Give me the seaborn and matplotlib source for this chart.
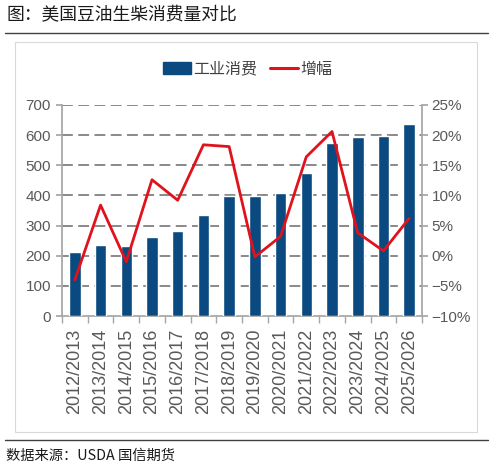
import numpy as np
import pandas as pd
import matplotlib
matplotlib.use("Agg")
import matplotlib.pyplot as plt
import seaborn as sns
from matplotlib import font_manager
from matplotlib.patches import Patch, Rectangle
from matplotlib.lines import Line2D
from matplotlib.ticker import FuncFormatter

seasons = ["2012/2013", "2013/2014", "2014/2015", "2015/2016", "2016/2017",
           "2017/2018", "2018/2019", "2019/2020", "2020/2021", "2021/2022",
           "2022/2023", "2023/2024", "2024/2025", "2025/2026"]
consumption = [213, 234, 232, 261, 283, 335, 398, 398, 407, 474, 573, 595, 598, 636]
growth_pct = [-4.0, 8.4, -1.0, 12.6, 9.2, 18.4, 18.1, -0.2, 3.2, 16.4, 20.6, 3.8, 0.8, 6.2]

bar_label = "工业消费"
line_label = "增幅"
title = "图：美国豆油生柴消费量对比"
source = "数据来源：USDA 国信期货"

sns.set_theme(style="white")
plt.rcParams['font.family'] = ['Noto Sans CJK SC', 'DejaVu Sans']

installed = {f.name for f in font_manager.fontManager.ttflist}
if "Liberation Sans Narrow" in installed:
    yfont, ysize = ['Liberation Sans Narrow', 'DejaVu Sans'], 12.5
else:
    yfont, ysize = ['Liberation Sans', 'DejaVu Sans'], 11

BLUE = "#0a4a80"
RED = "#e0121c"
GRAY = "#595959"
AXC = "#a6a6a6"

df = pd.DataFrame({"season": seasons, "consumption": consumption, "growth": growth_pct})

fig = plt.figure(figsize=(4.93, 4.69), dpi=100)
ax = fig.add_axes([62/493, 1-316/469, (422-62)/493, (316-105)/469])

sns.barplot(data=df, x="season", y="consumption", color=BLUE, width=0.45,
            saturation=1, ax=ax, zorder=3)
ax.set_ylim(0, 700)
ax.set_yticks(range(0, 701, 100))
ax.set_xlim(-0.5, len(seasons) - 0.5)
ax.set_xlabel("")
ax.set_ylabel("")
for y in range(100, 701, 100):
    ax.axhline(y, color="#808080", lw=1.3, ls=(0, (6, 3)), zorder=1)

ax2 = ax.twinx()
sns.lineplot(data=df, x="season", y="growth", color=RED, lw=2, ax=ax2, zorder=4)
ax2.set_ylim(-10, 25)
ax2.set_yticks(range(-10, 26, 5))
ax2.yaxis.set_major_formatter(FuncFormatter(lambda v, p: f"{int(v)}%".replace("-", "−")))
ax2.set_ylabel("")
ax2.set_xlabel("")

for a in (ax, ax2):
    for s in a.spines.values():
        s.set_visible(False)
ax.spines["left"].set_visible(True)
ax.spines["left"].set_color(AXC)
ax.spines["bottom"].set_visible(True)
ax.spines["bottom"].set_color(AXC)
ax2.spines["right"].set_visible(True)
ax2.spines["right"].set_color(AXC)

ax.tick_params(axis="y", left=True, length=4, direction="out", color=AXC,
               labelsize=ysize, labelcolor=GRAY, pad=4)
ax2.tick_params(axis="y", right=True, length=4, direction="out", color=AXC,
                labelsize=ysize, labelcolor=GRAY, pad=3)
for lab in ax.get_yticklabels() + ax2.get_yticklabels():
    lab.set_family(yfont)

ax.set_xticks(np.arange(len(seasons)))
ax.set_xticklabels(seasons, rotation=90, fontsize=13, color=GRAY,
                   family=['Liberation Sans', 'DejaVu Sans'])
ax.tick_params(axis="x", length=0, pad=9)
ax.set_xticks(np.arange(-0.5, len(seasons)), minor=True)
ax.tick_params(axis="x", which="minor", bottom=True, length=5, color=AXC, direction="out")

handles = [Patch(facecolor=BLUE, edgecolor=BLUE),
           Line2D([0], [0], color=RED, lw=2.2)]
fig.legend(handles, [bar_label, line_label], loc="center", bbox_to_anchor=(248/493, 1-69/469),
           ncol=2, frameon=False, fontsize=11.5, labelcolor="#404040",
           handlelength=1.75, handleheight=0.8, handletextpad=0.15, columnspacing=0.8)

fig.add_artist(Rectangle((15/493, 1-432/469), (477-15)/493, (432-42)/469,
                         transform=fig.transFigure, fill=False, edgecolor="#d9d9d9", lw=0.8))
fig.add_artist(Line2D([5/493, 488/493], [1-33/469, 1-33/469], transform=fig.transFigure,
                      color="#404040", lw=1))
fig.add_artist(Line2D([5/493, 488/493], [1-440/469, 1-440/469], transform=fig.transFigure,
                      color="#404040", lw=1))
fig.text(6/493, 1-15/469, title, fontsize=12.8, color="#1a1a1a", va="center", ha="left")
fig.text(6/493, 1-456/469, source, fontsize=10.3, color="#1a1a1a", va="center", ha="left")

fig.savefig("out.png", dpi=100)
